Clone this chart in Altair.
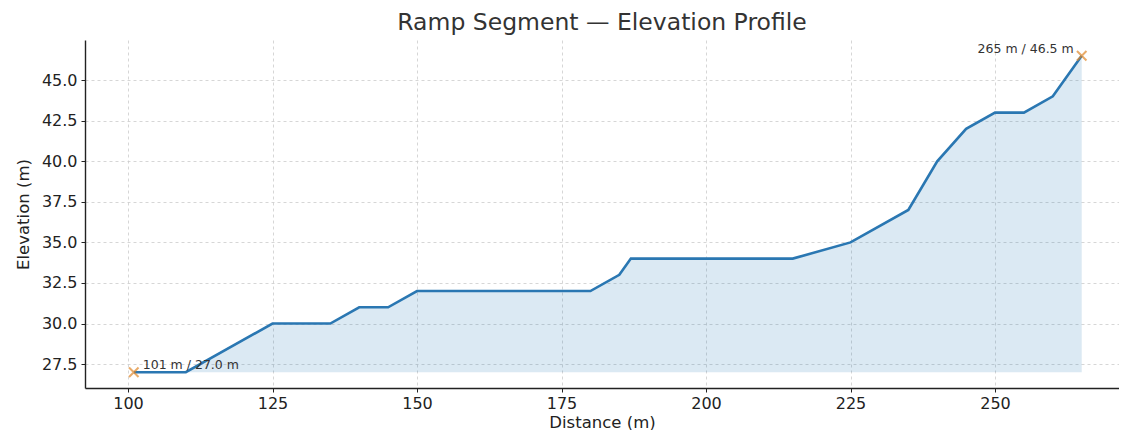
import altair as alt
import pandas as pd

distance = [101, 110, 125, 135, 140, 145, 150, 180, 185, 187, 215, 225, 235, 240, 245, 250, 255, 260, 265]
elevation = [27.0, 27.0, 30.0, 30.0, 31.0, 31.0, 32.0, 32.0, 33.0, 34.0, 34.0, 35.0, 37.0, 40.0, 42.0, 43.0, 43.0, 44.0, 46.5]
base_elev = min(elevation)

end_labels = ["101 m / 27.0 m", "265 m / 46.5 m"]
end_x = [distance[0], distance[-1]]
end_y = [elevation[0], elevation[-1]]

df = pd.DataFrame({"d": distance, "e": elevation, "base": [base_elev] * len(distance)})
ends = pd.DataFrame({"d": end_x, "e": end_y, "label": end_labels})

xs = alt.Scale(domain=[92.56, 271.45], nice=False, zero=False)
ys = alt.Scale(domain=[26.025, 47.475], nice=False, zero=False)

xax = alt.Axis(values=[100, 125, 150, 175, 200, 225, 250], title="Distance (m)", format="d")
yax = alt.Axis(values=[27.5, 30, 32.5, 35, 37.5, 40, 42.5, 45], title="Elevation (m)", format=".1f")

area = alt.Chart(df).mark_area(color="#1f77b4", opacity=0.16).encode(
    x=alt.X("d:Q", scale=xs, axis=xax),
    y=alt.Y("e:Q", scale=ys, axis=yax),
    y2="base:Q",
)
line = alt.Chart(df).mark_line(color="#2a77b2", strokeWidth=2.6).encode(
    x=alt.X("d:Q", scale=xs),
    y=alt.Y("e:Q", scale=ys),
)
pts = alt.Chart(ends).mark_point(
    shape="M-1,-1L1,1M-1,1L1,-1", filled=False, stroke="#e0882a", strokeWidth=2, size=90
).encode(x=alt.X("d:Q", scale=xs), y=alt.Y("e:Q", scale=ys))

txt_l = alt.Chart(ends.iloc[[0]]).mark_text(
    align="left", dx=9, dy=-7, fontSize=12.5, font="DejaVu Sans", color="#333333"
).encode(x=alt.X("d:Q", scale=xs), y=alt.Y("e:Q", scale=ys), text="label:N")
txt_r = alt.Chart(ends.iloc[[1]]).mark_text(
    align="right", dx=-8, dy=-7, fontSize=12.5, font="DejaVu Sans", color="#333333"
).encode(x=alt.X("d:Q", scale=xs), y=alt.Y("e:Q", scale=ys), text="label:N")

chart = alt.layer(area, line, pts, txt_l, txt_r).properties(
    width=1034,
    height=348,
    title=alt.TitleParams("Ramp Segment — Elevation Profile", fontSize=23.5, font="DejaVu Sans",
                          fontWeight="normal", color="#333333", anchor="middle", offset=6),
    autosize=alt.AutoSizeParams(type="none"),
    padding={"left": 77, "top": 32, "right": 0, "bottom": 42},
).configure_view(stroke=None).configure_axis(
    labelFont="DejaVu Sans", titleFont="DejaVu Sans", labelFontSize=16, titleFontSize=16.5,
    titleFontWeight="normal", labelColor="#222222", titleColor="#222222",
    domainColor="#222222", domainWidth=1.4, tickColor="#222222", tickSize=4, tickWidth=1,
    gridColor="#cccccc", gridDash=[3, 3], gridWidth=0.8,
).configure_axisY(titlePadding=10, labelPadding=4).configure_axisX(titlePadding=3, labelPadding=3)

chart.save("out.html", embed_options={"renderer": "svg", "actions": False})
